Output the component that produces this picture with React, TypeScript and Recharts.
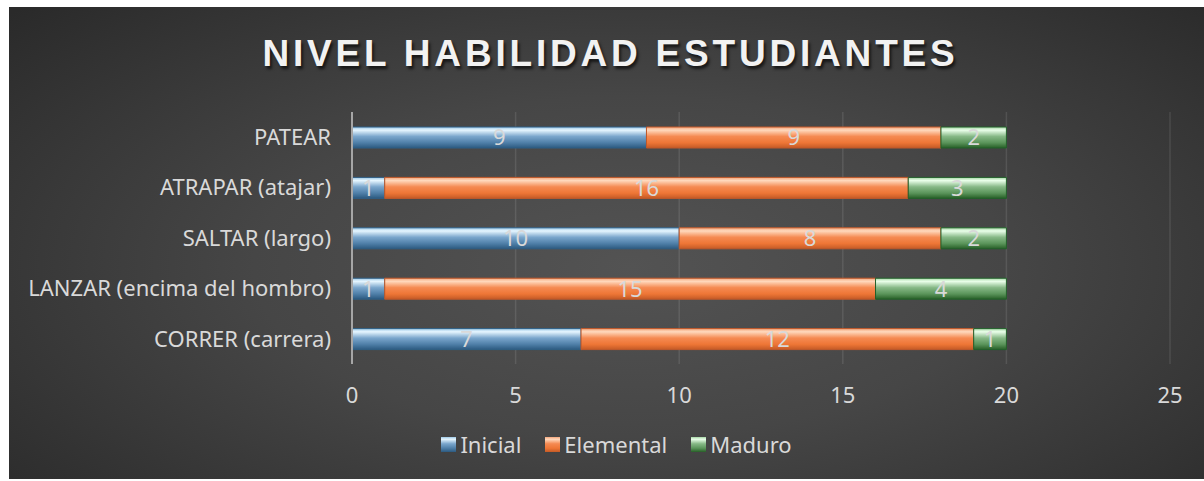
import {
  BarChart,
  Bar,
  XAxis,
  YAxis,
  CartesianGrid,
  LabelList,
  Legend,
} from "recharts";

const categories = [
  "PATEAR",
  "ATRAPAR (atajar)",
  "SALTAR (largo)",
  "LANZAR (encima del hombro)",
  "CORRER (carrera)",
];
const inicial = [9, 1, 10, 1, 7];
const elemental = [9, 16, 8, 15, 12];
const maduro = [2, 3, 2, 4, 1];
const xTicks = [0, 5, 10, 15, 20, 25];

const seriesInfo = [
  { key: "inicial", name: "Inicial", grad: "gBlue", border: "#2f5f85" },
  { key: "elemental", name: "Elemental", grad: "gOrange", border: "#c0592a" },
  { key: "maduro", name: "Maduro", grad: "gGreen", border: "#22602a" },
];

const FONT = "'Noto Sans', 'Open Sans', sans-serif";
const TEXT = "#d9d9d9";
const FS = 22;

function LegendContent() {
  return (
    <div
      style={{
        display: "flex",
        justifyContent: "center",
        gap: 24,
        paddingLeft: 54,
        fontFamily: FONT,
        fontSize: FS,
        color: TEXT,
      }}
    >
      {seriesInfo.map((s) => (
        <div key={s.key} style={{ display: "flex", alignItems: "center" }}>
          <svg width={15} height={15} style={{ marginRight: 4 }}>
            <rect x={0} y={0} width={15} height={15} fill={`url(#${s.grad})`} />
          </svg>
          <span>{s.name}</span>
        </div>
      ))}
    </div>
  );
}

export default function App() {
  const data = categories.map((c, i) => ({
    name: c,
    inicial: inicial[i],
    elemental: elemental[i],
    maduro: maduro[i],
  }));

  return (
    <div
      style={{
        position: "absolute",
        left: 9,
        top: 7,
        width: 1195,
        height: 472,
        background:
          "radial-gradient(ellipse 70% 80% at 52% 55%, #535353 0%, #464646 45%, #2a2a2a 100%)",
        overflow: "hidden",
      }}
    >
      <div
        style={{
          position: "absolute",
          top: 26,
          left: 0,
          width: 1203,
          textAlign: "center",
          fontFamily: "'Liberation Sans', Arial, sans-serif",
          fontWeight: 700,
          fontSize: 37,
          letterSpacing: 3.8,
          color: "#f2f2f2",
          textShadow: "2px 3px 3px rgba(0,0,0,0.65)",
        }}
      >
        NIVEL HABILIDAD ESTUDIANTES
      </div>
      <div style={{ position: "absolute", left: 0, top: 0 }}>
        <BarChart
          width={1195}
          height={472}
          data={data}
          layout="vertical"
          margin={{ top: 105, right: 34, left: 0, bottom: 35 }}
          barCategoryGap={15}
        >
          <defs>
            <linearGradient id="gBlue" x1="0" y1="0" x2="0" y2="1">
              <stop offset="0%" stopColor="#9cc8e6" />
              <stop offset="15%" stopColor="#e6f6ff" />
              <stop offset="45%" stopColor="#7aa6cc" />
              <stop offset="75%" stopColor="#4f7fa8" />
              <stop offset="100%" stopColor="#2c5a80" />
            </linearGradient>
            <linearGradient id="gOrange" x1="0" y1="0" x2="0" y2="1">
              <stop offset="0%" stopColor="#f4a57a" />
              <stop offset="15%" stopColor="#ffd9bd" />
              <stop offset="45%" stopColor="#f58a52" />
              <stop offset="75%" stopColor="#ee7636" />
              <stop offset="100%" stopColor="#c45a26" />
            </linearGradient>
            <linearGradient id="gGreen" x1="0" y1="0" x2="0" y2="1">
              <stop offset="0%" stopColor="#a5d6a5" />
              <stop offset="15%" stopColor="#eaffea" />
              <stop offset="45%" stopColor="#86b886" />
              <stop offset="75%" stopColor="#5a945a" />
              <stop offset="100%" stopColor="#275f27" />
            </linearGradient>
          </defs>
          <CartesianGrid
            horizontal={false}
            stroke="rgba(255,255,255,0.1)"
            strokeWidth={1.5}
          />
          <XAxis
            type="number"
            domain={[0, 25]}
            ticks={xTicks}
            axisLine={false}
            tickLine={false}
            tickSize={0}
            tickMargin={23}
            height={50}
            tick={{ fill: TEXT, fontSize: FS, fontFamily: FONT }}
          />
          <YAxis
            type="category"
            dataKey="name"
            width={343}
            axisLine={{ stroke: "#a6a6a6", strokeWidth: 2 }}
            tickLine={false}
            tickSize={0}
            tickMargin={21}
            tick={{ fill: TEXT, fontSize: FS, fontFamily: FONT }}
          />
          <Legend
            verticalAlign="bottom"
            content={() => <LegendContent />}
            wrapperStyle={{ bottom: 20 }}
          />
          {seriesInfo.map((s) => (
            <Bar
              key={s.key}
              dataKey={s.key}
              name={s.name}
              stackId="a"
              fill={`url(#${s.grad})`}
              stroke={s.border}
              strokeWidth={1}
              barSize={21}
              isAnimationActive={false}
            >
              <LabelList
                dataKey={s.key}
                position="center"
                fill={TEXT}
                style={{ fontSize: FS, fontFamily: FONT }}
              />
            </Bar>
          ))}
        </BarChart>
      </div>
    </div>
  );
}
